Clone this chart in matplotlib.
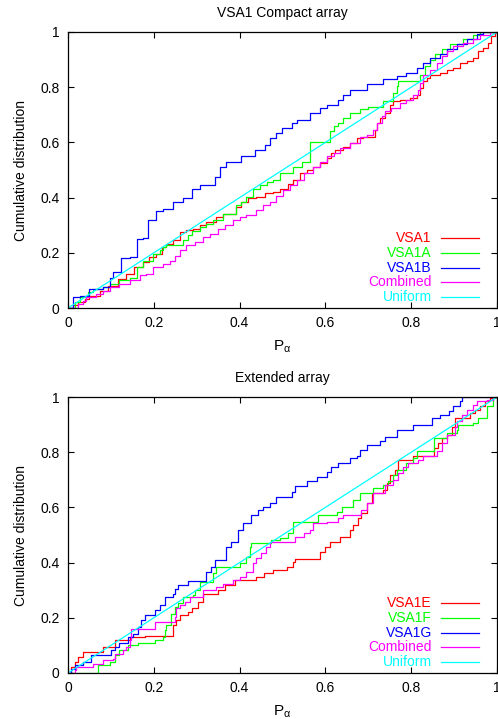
import matplotlib
matplotlib.use('Agg')
import matplotlib.pyplot as plt
from matplotlib.ticker import FuncFormatter

plt.rcParams['font.family'] = ['Liberation Sans', 'DejaVu Sans']
plt.rcParams['font.size'] = 10
plt.rcParams['mathtext.fontset'] = 'custom'
plt.rcParams['mathtext.rm'] = 'Liberation Sans'
plt.rcParams['mathtext.it'] = 'Liberation Sans:italic'

# —— values: (P_alpha, cumulative) at each step ——
# compact array
vsa1 = [(0, 0), (.012, .01), (.023, .02), (.039, .033), (.05, .045), (.074, .063), (.093, .081),
        (.117, .106), (.136, .124), (.155, .148), (.175, .166), (.19, .184), (.206, .197),
        (.218, .221), (.229, .233), (.245, .245), (.26, .275), (.276, .282), (.291, .288),
        (.307, .3), (.322, .312), (.346, .33), (.361, .342), (.392, .366), (.404, .385),
        (.42, .397), (.439, .403), (.459, .415), (.479, .421), (.494, .433), (.514, .451),
        (.525, .464), (.541, .488), (.556, .5), (.572, .512), (.587, .524), (.603, .542),
        (.614, .561), (.622, .573), (.642, .585), (.657, .597), (.673, .615), (.688, .621),
        (.716, .646), (.72, .67), (.727, .688), (.739, .706), (.75, .737), (.758, .749),
        (.774, .755), (.797, .761), (.813, .773), (.82, .797), (.828, .822), (.836, .834),
        (.844, .846), (.867, .852), (.883, .864), (.898, .87), (.914, .888), (.929, .894),
        (.945, .907), (.956, .931), (.968, .943), (.98, .961), (.987, .985), (.995, 1.0), (1.0, 1.0)]
vsa1a = [(0, 0), (.016, .02), (.027, .039), (.047, .057), (.058, .07), (.082, .075), (.097, .087),
         (.12, .1), (.144, .11), (.16, .148), (.175, .172), (.198, .197), (.214, .21), (.221, .22),
         (.229, .227), (.268, .245), (.28, .263), (.29, .28), (.307, .294), (.322, .306),
         (.338, .318), (.361, .342), (.392, .373), (.404, .385), (.416, .403), (.431, .433),
         (.447, .445), (.463, .458), (.479, .464), (.494, .488), (.525, .512), (.545, .53),
         (.564, .603), (.611, .64), (.619, .658), (.63, .67), (.642, .688), (.657, .706),
         (.681, .72), (.7, .728), (.735, .749), (.758, .779), (.766, .803), (.77, .822),
         (.82, .846), (.832, .876), (.844, .9), (.855, .919), (.871, .937), (.89, .955),
         (.921, .973), (.945, .99), (.96, 1.0), (1.0, 1.0)]
vsa1b = [(0, 0), (.012, .039), (.027, .045), (.05, .07), (.082, .075), (.097, .11), (.105, .13),
         (.124, .18), (.144, .185), (.16, .25), (.175, .255), (.186, .32), (.206, .35),
         (.221, .36), (.245, .385), (.268, .4), (.29, .43), (.307, .445), (.342, .475),
         (.354, .51), (.369, .53), (.404, .55), (.435, .573), (.459, .591), (.471, .615),
         (.486, .633), (.498, .652), (.521, .67), (.533, .682), (.564, .706), (.587, .725),
         (.603, .737), (.63, .755), (.642, .773), (.657, .791), (.696, .81), (.735, .828),
         (.766, .84), (.789, .852), (.813, .87), (.828, .888), (.844, .907), (.867, .919),
         (.883, .937), (.906, .955), (.929, .973), (.953, .992), (.968, 1.0), (1.0, 1.0)]
combined_c = [(0, 0), (.023, .015), (.035, .027), (.043, .04), (.066, .051), (.082, .063),
              (.097, .075), (.12, .087), (.144, .1), (.167, .118), (.183, .124), (.198, .148),
              (.221, .16), (.237, .172), (.249, .19), (.26, .209), (.276, .227), (.295, .239),
              (.315, .257), (.33, .269), (.35, .288), (.365, .3), (.385, .318), (.4, .33),
              (.416, .336), (.439, .354), (.455, .373), (.47, .385), (.486, .405), (.502, .427),
              (.517, .445), (.533, .464), (.549, .488), (.572, .512), (.587, .53), (.603, .549),
              (.619, .561), (.634, .579), (.657, .597), (.681, .621), (.696, .627), (.712, .646),
              (.72, .67), (.731, .694), (.739, .712), (.754, .725), (.774, .743), (.789, .755),
              (.805, .773), (.817, .791), (.82, .816), (.828, .846), (.844, .864), (.86, .888),
              (.871, .913), (.883, .931), (.898, .949), (.921, .961), (.945, .976), (.96, .99),
              (.984, 1.0), (1.0, 1.0)]

# extended array
vsa1e = [(0, 0), (.008, .022), (.016, .04), (.023, .058), (.035, .076), (.082, .094), (.109, .119),
         (.144, .131), (.179, .133), (.245, .173), (.252, .191), (.26, .209), (.28, .222),
         (.288, .234), (.303, .258), (.315, .288), (.35, .3), (.365, .318), (.389, .337),
         (.439, .349), (.458, .361), (.478, .373), (.51, .385), (.525, .403), (.529, .412),
         (.587, .44), (.599, .458), (.611, .476), (.634, .494), (.657, .518), (.665, .536),
         (.677, .561), (.684, .579), (.696, .615), (.708, .651), (.735, .663), (.743, .688),
         (.75, .718), (.762, .736), (.77, .772), (.805, .785), (.852, .815), (.863, .833),
         (.871, .851), (.883, .863), (.894, .893), (.902, .924), (.937, .942), (.949, .954),
         (.96, .966), (.972, .984), (.984, .996), (.995, 1.0), (1.0, 1.0)]
vsa1f = [(0, 0), (.07, .028), (.097, .04), (.109, .064), (.12, .082), (.14, .1), (.163, .107),
         (.202, .119), (.221, .131), (.225, .155), (.229, .173), (.241, .215), (.249, .24),
         (.256, .252), (.268, .276), (.291, .282), (.295, .3), (.307, .33), (.338, .361),
         (.346, .385), (.4, .397), (.416, .421), (.424, .458), (.427, .47), (.474, .482),
         (.494, .488), (.514, .506), (.525, .548), (.583, .573), (.626, .585), (.638, .603),
         (.665, .627), (.681, .651), (.712, .67), (.735, .682), (.747, .694), (.758, .718),
         (.766, .736), (.789, .76), (.805, .778), (.813, .803), (.852, .851), (.883, .869),
         (.906, .881), (.91, .9), (.945, .906), (.956, .924), (.976, .966), (.991, 1.0), (1.0, 1.0)]
vsa1g = [(0, 0), (.008, .016), (.016, .028), (.035, .04), (.054, .064), (.101, .082), (.109, .094),
         (.12, .107), (.14, .131), (.152, .143), (.163, .167), (.171, .191), (.179, .209),
         (.202, .228), (.214, .246), (.225, .276), (.245, .288), (.249, .306), (.256, .318),
         (.28, .334), (.322, .367), (.334, .385), (.342, .409), (.369, .458), (.381, .476),
         (.396, .518), (.408, .542), (.427, .573), (.443, .591), (.455, .603), (.471, .615),
         (.486, .639), (.521, .657), (.529, .676), (.556, .694), (.58, .712), (.603, .73),
         (.614, .748), (.63, .76), (.657, .778), (.673, .785), (.681, .809), (.696, .827),
         (.727, .839), (.739, .855), (.766, .879), (.805, .9), (.848, .924), (.867, .936),
         (.887, .948), (.898, .966), (.914, .984), (.918, 1.0), (1.0, 1.0)]
combined_e = [(0, 0), (.016, .01), (.019, .022), (.058, .034), (.082, .046), (.105, .052),
              (.109, .07), (.128, .082), (.136, .094), (.144, .119), (.148, .161), (.202, .185),
              (.249, .203), (.252, .234), (.26, .246), (.272, .258), (.284, .276), (.315, .3),
              (.346, .312), (.361, .324), (.385, .337), (.4, .349), (.416, .367), (.431, .397),
              (.439, .415), (.451, .433), (.462, .458), (.47, .476), (.529, .494), (.549, .506),
              (.564, .518), (.572, .542), (.603, .548), (.63, .561), (.642, .573), (.684, .591),
              (.696, .615), (.712, .651), (.739, .682), (.758, .7), (.77, .724), (.782, .748),
              (.793, .76), (.817, .772), (.828, .785), (.86, .803), (.871, .833), (.883, .863),
              (.902, .893), (.906, .912), (.918, .936), (.929, .954), (.945, .972), (.953, .984),
              (.976, .99), (.991, 1.0), (1.0, 1.0)]
uniform = [(0, 0), (1, 1)]
# ———————————————————

colors = ['#ff0000', '#00ff00', '#0000ff', '#ff00ff', '#00ffff']
ticks = [0, 0.2, 0.4, 0.6, 0.8, 1.0]

panels = [
    ('VSA1 Compact array', [0.1365, 0.5716, 0.8615, 0.3839],
     ['VSA1', 'VSA1A', 'VSA1B', 'Combined', 'Uniform'],
     [vsa1, vsa1a, vsa1b, combined_c, uniform]),
    ('Extended array', [0.1365, 0.0640, 0.8615, 0.3838],
     ['VSA1E', 'VSA1F', 'VSA1G', 'Combined', 'Uniform'],
     [vsa1e, vsa1f, vsa1g, combined_e, uniform]),
]

fig = plt.figure(figsize=(4.98, 7.19), dpi=100)

for title, rect, labels, series in panels:
    ax = fig.add_axes(rect)
    for i, (lab, pts, c) in enumerate(zip(labels, series, colors)):
        x = [p[0] for p in pts]
        y = [p[1] for p in pts]
        if lab == 'Uniform':
            ax.plot(x, y, color=c, linewidth=0.9)
        else:
            ax.plot(x, y, color=c, linewidth=0.9, drawstyle='steps-post')
        # legend: right-aligned coloured text, line sample to the right
        ly = 0.252 - i * 0.0528
        ax.text(0.848, ly, lab, color=c, ha='right', va='center', transform=ax.transAxes)
        ax.plot([0.869, 0.958], [ly, ly], color=c, linewidth=0.9, transform=ax.transAxes)

    ax.set_xlim(0, 1)
    ax.set_ylim(0, 1)
    ax.set_xticks(ticks)
    ax.set_yticks(ticks)
    fmt = FuncFormatter(lambda v, pos: f'{v:g}')
    ax.xaxis.set_major_formatter(fmt)
    ax.yaxis.set_major_formatter(fmt)
    ax.tick_params(direction='in', top=True, right=True, length=4, width=0.8, pad=6)
    for s in ax.spines.values():
        s.set_linewidth(0.9)
    ax.set_title(title, fontsize=10, pad=11)
    ax.set_xlabel(r'P$_{\mathrm{\alpha}}$', labelpad=6, fontsize=11)
    ax.set_ylabel('Cumulative distribution', labelpad=9)

fig.savefig('out.png', dpi=100)
